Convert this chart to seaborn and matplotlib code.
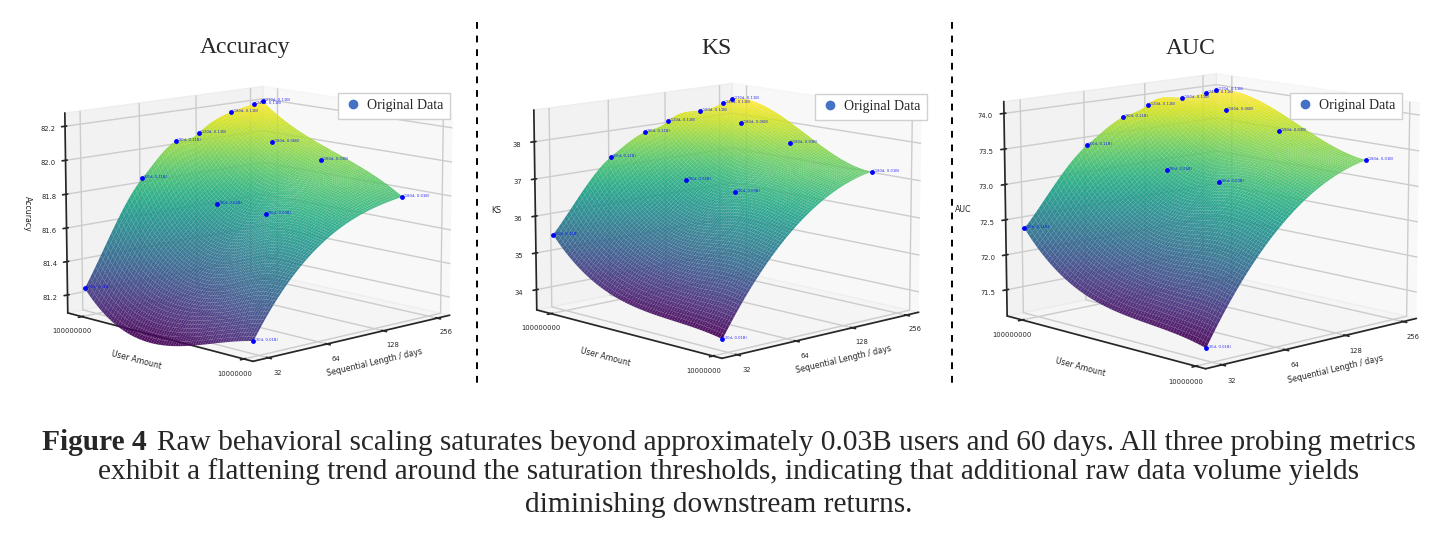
import numpy as np
import matplotlib
matplotlib.use("Agg")
import matplotlib.pyplot as plt
import matplotlib.tri as mtri
from matplotlib.lines import Line2D
from mpl_toolkits.mplot3d import proj3d
import seaborn as sns

# ---------------- data ----------------
days = [30, 60, 90, 120, 180, 240, 270, 180, 180, 180, 90, 90, 30]
users_b = [0.11, 0.11, 0.11, 0.11, 0.11, 0.11, 0.11, 0.06, 0.03, 0.01, 0.06, 0.03, 0.01]
accuracy = [81.24, 81.84, 82.03, 82.06, 82.16, 82.19, 82.20, 82.02, 81.96, 81.83, 81.70, 81.70, 81.18]
ks = [35.50, 37.36, 37.89, 38.10, 38.27, 38.38, 38.48, 38.12, 37.78, 37.39, 36.79, 36.71, 33.82]
auc = [72.38, 73.42, 73.75, 73.88, 73.91, 73.94, 73.96, 73.83, 73.66, 73.45, 73.10, 73.07, 71.33]
metric_names = ["Accuracy", "KS", "AUC"]
day_ticks = [32, 64, 128, 256]
user_ticks = [10000000, 100000000]
acc_ticks = [81.2, 81.4, 81.6, 81.8, 82.0, 82.2]
ks_ticks = [34, 35, 36, 37, 38]
auc_ticks = [71.5, 72.0, 72.5, 73.0, 73.5, 74.0]
legend_label = "Original Data"
x_label = "Sequential Length / days"
y_label = "User Amount"
caption_bold = "Figure 4"
caption_line1 = "Raw behavioral scaling saturates beyond approximately 0.03B users and 60 days. All three probing metrics"
caption_line2 = "exhibit a flattening trend around the saturation thresholds, indicating that additional raw data volume yields"
caption_line3 = "diminishing downstream returns."

# ---------------- style ----------------
sns.set_theme(style="white")
plt.rcParams['font.family'] = ['DejaVu Sans']
cmap = sns.color_palette("viridis", as_cmap=True)
SERIF = ['Liberation Serif', 'DejaVu Serif']

W, H = 1438, 537
fig = plt.figure(figsize=(W / 100, H / 100), dpi=100)

lx = np.log2(np.array(days, dtype=float))
ly = np.log10(np.array(users_b) * 1e9)
triang = mtri.Triangulation(lx, ly)


def interpolated_surface(z, n=70):
    """Smooth cubic (Clough-Tocher) interpolation over the convex hull of the points."""
    zz = np.asarray(z, dtype=float)
    interp = mtri.CubicTriInterpolator(triang, zz, kind='min_E')
    eps = 1e-6
    u = np.linspace(eps, 1 - eps, n)
    v = np.linspace(eps, 1 - eps, n)
    U, V = np.meshgrid(u, v)
    y_lo, y_hi = ly.min(), ly.max()
    Yg = y_lo + U * (y_hi - y_lo)
    x_lo = lx.min()
    x_hi_front = lx[ly == y_lo].max()
    x_hi_back = lx[ly == y_hi].max()
    x_hi = x_hi_front + U * (x_hi_back - x_hi_front)
    Xg = x_lo + V * (x_hi - x_lo)
    Zg = np.ma.filled(interp(Xg, Yg).astype(float), np.nan)
    if np.isnan(Zg).any():
        lin = mtri.LinearTriInterpolator(triang, zz)
        Zl = np.ma.filled(lin(Xg, Yg).astype(float), np.nan)
        Zg = np.where(np.isnan(Zg), Zl, Zg)
        Zg = np.where(np.isnan(Zg), np.nanmean(Zg), Zg)
    return Xg, Yg, Zg


panels = [
    dict(z=accuracy, ticks=acc_ticks, zlim=(81.092, 82.278), cx=252, cy=221, zoom=0.90,
         rot=270, leg=(450, 93), title=(245, 48)),
    dict(z=ks, ticks=ks_ticks, zlim=(33.446, 38.848), cx=721, cy=218, zoom=0.90,
         rot=0, leg=(927, 94), title=(716, 48)),
    dict(z=auc, ticks=auc_ticks, zlim=(71.123, 74.166), cx=1205, cy=217, zoom=0.965,
         rot=0, leg=(1402, 93), title=(1191, 48)),
]

S = 470
for name, p in zip(metric_names, panels):
    ax = fig.add_axes([(p['cx'] - S / 2) / W, 1 - (p['cy'] + S / 2) / H, S / W, S / H],
                      projection='3d')
    ax.patch.set_alpha(0)
    ax.computed_zorder = False
    ax.view_init(elev=11, azim=-133.5)
    ax.set_box_aspect((4, 4, 3), zoom=p['zoom'])

    ax.set_xlim(4.7485, 8.2355)
    ax.set_ylim(6.948, 8.0935)
    ax.set_zlim(*p['zlim'])

    Xg, Yg, Zg = interpolated_surface(p['z'])
    ax.plot_surface(Xg, Yg, Zg, cmap=cmap, alpha=0.92, linewidth=0,
                    antialiased=True, rcount=70, ccount=70, zorder=1)
    ax.scatter(lx, ly, p['z'], color='blue', s=6, depthshade=False, zorder=3)

    ax.set_xlim(4.7485, 8.2355)
    ax.set_ylim(6.948, 8.0935)
    ax.set_zlim(*p['zlim'])

    # point labels: project the data points through the axes' own 3D projection
    M = ax.get_proj()
    px, py, _ = proj3d.proj_transform(lx, ly, np.asarray(p['z'], dtype=float), M)
    for d, ub, x2, y2 in zip(days, users_b, px, py):
        ax.text2D(x2, y2, f" ({d}d, {ub:.2f}B)", transform=ax.transData, fontsize=2.7,
                  color='blue', alpha=0.8, zorder=4, va='baseline')

    ax.set_xticks(np.log2(day_ticks))
    ax.set_xticklabels([str(t) for t in day_ticks])
    ax.set_yticks(np.log10(user_ticks))
    ax.set_yticklabels([str(t) for t in user_ticks])
    ax.set_zticks(p['ticks'])
    ax.set_zticklabels([f"{t:g}" if name == "KS" else f"{t:.1f}" for t in p['ticks']])
    ax.tick_params(labelsize=4.9, pad=0)
    ax.set_xlabel(x_label, fontsize=5.7, labelpad=-4)
    ax.set_ylabel(y_label, fontsize=5.7, labelpad=-4)
    ax.zaxis.set_rotate_label(False)
    ax.set_zlabel(name, fontsize=5.7, rotation=p['rot'], labelpad=-3)

    handle = Line2D([], [], marker='o', linestyle='none', color='#4472C4', markersize=6)
    ax.legend([handle], [legend_label], loc='upper right',
              bbox_to_anchor=(p['leg'][0] / W, 1 - p['leg'][1] / H),
              bbox_transform=fig.transFigure, prop=dict(family=SERIF, size=10),
              fancybox=False, framealpha=1, edgecolor='#d0d0d0', borderpad=0.45,
              borderaxespad=0, handletextpad=0.3, handlelength=1.4)

    fig.text(p['title'][0] / W, 1 - p['title'][1] / H, name, ha='center', va='center',
             family=SERIF, fontsize=17)

for xpix in (477, 952):
    fig.add_artist(Line2D([xpix / W, xpix / W], [1 - 22 / H, 1 - 383 / H],
                          transform=fig.transFigure, color='black', lw=1.4,
                          linestyle=(0, (3.5, 3.5))))

# caption
renderer = fig.canvas.get_renderer()
cap_size = 21.2
y1 = 1 - 450 / H
tb = fig.text(0, y1, caption_bold, family=SERIF, fontsize=cap_size, weight='bold', va='baseline')
tr = fig.text(0, y1, caption_line1, family=SERIF, fontsize=cap_size, va='baseline')
wb = tb.get_window_extent(renderer).width
wr = tr.get_window_extent(renderer).width
gap = 11
x0 = (W - (wb + gap + wr)) / 2 + 10
tb.set_x(x0 / W)
tr.set_x((x0 + wb + gap) / W)
fig.text(0.5 + 10 / W, 1 - 479 / H, caption_line2, family=SERIF, fontsize=cap_size, ha='center', va='baseline')
fig.text(0.5, 1 - 512 / H, caption_line3, family=SERIF, fontsize=cap_size, ha='center', va='baseline')

fig.savefig("out.png", dpi=100)
